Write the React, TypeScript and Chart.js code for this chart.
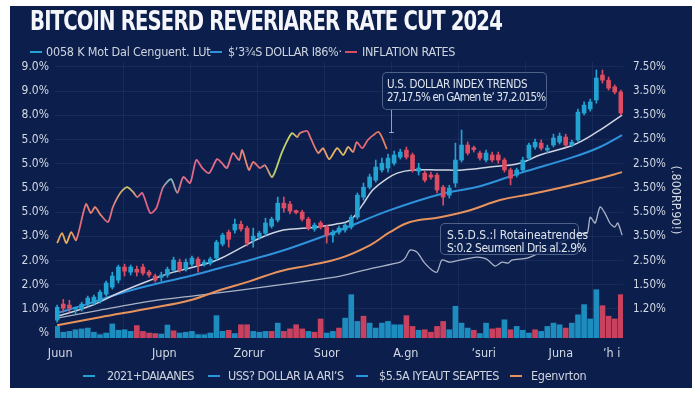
import React, { useEffect, useRef } from 'react';
import { Chart, registerables } from 'chart.js';

Chart.register(...registerables);

// ---------- tick labels ----------
const leftTickLabels = ['%', '1.0%', '2.0%', '2.0%', '3.0%', '5.0%', '5.0%', '5.0%', '5.0%', '8.0%', '9.0%', '9.0%'];
const rightTickLabels = ['', '1.20%', '1.50%', '2.50%', '3.50%', '5.50%', '3.50%', '2.50%', '2.50%', '3.50%', '3.50%', '7.50%'];
const xTickPositions = [0.5, 17.5, 31.3, 44.0, 56.9, 69.6, 82.2, 90.5];
const xTickLabels = ['Juun', 'Jupn', 'Zorur', 'Suor', 'A.gn', '\u02BCsuri', 'Juna', '\u02BCh i'];
const rightAxisTitle = '(.800RP.90!)';

// ---------- candles (93 periods) ----------
const candleOpen = [
  0.54, 1.20, 1.16, 0.99, 0.99, 1.20, 1.24, 1.32, 1.61, 1.90,
  2.19, 2.73, 2.52, 2.64, 2.73, 2.52, 2.36, 2.31, 2.40, 2.60,
  2.93, 2.64, 2.85, 3.06, 2.85, 2.89, 3.10, 3.68, 4.17, 4.26,
  4.50, 4.34, 3.84, 3.97, 4.13, 4.42, 4.67, 5.37, 5.33, 5.00,
  5.00, 4.71, 4.30, 4.55, 4.38, 4.05, 4.17, 4.26, 4.38, 4.79,
  5.62, 6.03, 6.32, 6.74, 6.82, 7.02, 7.27, 7.56, 7.36, 6.69,
  6.61, 6.53, 6.53, 6.03, 5.70, 6.20, 7.15, 7.77, 7.62, 7.44,
  7.15, 7.36, 7.36, 7.15, 6.74, 6.53, 6.74, 7.23, 7.69, 7.85,
  7.56, 7.77, 7.89, 8.10, 7.77, 7.98, 9.09, 9.26, 9.63, 10.66,
  10.45, 10.17, 9.96,
];
const candleClose = [
  1.07, 1.03, 1.03, 1.03, 1.20, 1.45, 1.49, 1.69, 2.07, 2.36,
  2.73, 2.56, 2.73, 2.52, 2.48, 2.40, 2.19, 2.40, 2.64, 3.02,
  2.60, 2.93, 3.10, 2.81, 2.93, 3.06, 3.76, 4.05, 3.88, 4.50,
  4.30, 3.72, 4.01, 4.13, 4.55, 4.71, 5.37, 5.17, 5.04, 4.98,
  4.71, 4.34, 4.46, 4.38, 4.05, 4.17, 4.34, 4.46, 4.79, 5.70,
  6.03, 6.45, 6.86, 7.02, 7.23, 7.36, 7.48, 7.27, 6.74, 6.82,
  6.32, 6.45, 5.91, 5.62, 5.99, 7.15, 7.77, 7.44, 7.58, 7.23,
  7.44, 7.15, 7.15, 6.74, 6.40, 6.74, 7.15, 7.77, 7.89, 7.64,
  7.64, 8.06, 8.14, 7.77, 7.89, 9.13, 9.42, 9.55, 10.54, 10.45,
  10.12, 9.96, 9.09,
];
const candleHigh = [
  1.16, 1.40, 1.36, 1.07, 1.28, 1.53, 1.57, 1.78, 2.15, 2.52,
  2.81, 2.85, 2.81, 2.77, 2.85, 2.60, 2.44, 2.52, 2.73, 3.14,
  3.06, 3.06, 3.18, 3.14, 3.02, 3.14, 3.84, 4.13, 4.26, 4.71,
  4.63, 4.42, 4.34, 4.21, 4.75, 4.79, 5.62, 5.62, 5.45, 5.08,
  5.08, 4.79, 4.55, 4.63, 4.46, 4.26, 4.42, 4.55, 4.88, 5.79,
  6.20, 6.57, 7.15, 7.23, 7.40, 7.52, 7.60, 7.69, 7.44, 7.02,
  6.69, 6.65, 6.61, 6.11, 6.11, 7.85, 8.39, 7.90, 7.73, 7.52,
  7.56, 7.48, 7.48, 7.23, 6.82, 6.82, 7.27, 7.85, 8.02, 7.98,
  7.77, 8.22, 8.27, 8.22, 7.98, 9.26, 9.55, 9.67, 10.87, 10.87,
  10.58, 10.25, 10.04,
];
const candleLow = [
  0.45, 0.87, 0.87, 0.79, 0.91, 1.12, 1.16, 1.24, 1.53, 1.82,
  2.07, 2.36, 2.40, 2.36, 2.40, 2.31, 2.11, 2.15, 2.31, 2.52,
  2.52, 2.56, 2.77, 2.52, 2.77, 2.81, 3.02, 3.60, 3.55, 4.13,
  4.21, 3.60, 3.55, 3.88, 4.01, 4.34, 4.59, 5.00, 4.92, 4.92,
  4.63, 4.26, 4.21, 4.30, 3.72, 3.76, 4.09, 4.17, 4.30, 4.71,
  5.50, 5.95, 6.24, 6.65, 6.65, 6.94, 7.19, 7.19, 6.65, 6.53,
  6.24, 6.36, 5.79, 5.29, 5.58, 6.03, 7.07, 7.36, 7.48, 7.15,
  7.07, 7.07, 7.02, 6.65, 6.12, 6.45, 6.65, 7.15, 7.60, 7.56,
  7.44, 7.69, 7.81, 7.69, 7.69, 7.89, 9.01, 9.17, 9.50, 10.33,
  10.04, 9.88, 9.01,
];

// ---------- volume ----------
const volume = [
  4.2, 2.1, 2.4, 3.0, 3.3, 3.6, 2.1, 1.2, 1.8, 5.1,
  2.8, 3.0, 2.4, 4.5, 2.4, 1.8, 1.6, 1.4, 4.7, 2.6,
  1.8, 2.1, 2.4, 1.2, 1.2, 1.8, 8.1, 2.4, 2.8, 1.6,
  4.8, 4.8, 2.4, 2.1, 2.4, 2.4, 5.4, 2.4, 3.3, 4.8,
  3.3, 2.4, 2.1, 6.9, 1.8, 2.4, 3.6, 7.2, 15.7, 6.0,
  7.9, 5.4, 3.6, 5.4, 6.0, 4.8, 4.8, 8.1, 4.2, 2.8,
  3.0, 2.1, 4.2, 6.0, 3.0, 11.5, 5.4, 3.6, 2.8, 1.6,
  5.4, 3.3, 3.6, 6.6, 3.0, 4.2, 2.8, 1.8, 3.0, 2.4,
  4.2, 5.4, 4.8, 3.6, 5.4, 8.4, 12.1, 6.9, 17.5, 11.7,
  7.9, 6.9, 15.7,
];
const volumeSide = [
  1, 1, 1, 1, 1, 1, 1, 1, 1, 1,
  1, 1, 1, -1, -1, -1, -1, 1, 1, -1,
  1, 1, 1, 1, 1, 1, 1, 1, -1, 1,
  -1, -1, 1, 1, 1, -1, 1, -1, -1, -1,
  -1, 1, -1, -1, 1, 1, -1, 1, 1, 1,
  -1, 1, 1, 1, 1, 1, 1, -1, -1, 1,
  -1, -1, -1, -1, 1, 1, 1, 1, -1, 1,
  1, -1, -1, 1, -1, 1, 1, 1, -1, 1,
  1, 1, 1, -1, 1, 1, 1, 1, 1, -1,
  -1, -1, -1,
];

// ---------- lines ----------
const inflationX = [
  0, 0.8, 1.5, 2.3, 3.1, 4.7, 5.5, 6.2, 7.0, 8.3,
  9.1, 10.3, 11.4, 12.4, 13.1, 13.9, 15.2, 16.2, 17.3, 18.6,
  19.6, 20.6, 21.7, 22.7, 23.7, 24.8, 26.1, 26.9, 27.7, 28.7,
  29.7, 30.2, 31.3, 32.0, 33.1, 33.9, 35.1, 36.7, 38.3, 39.2,
  39.6, 40.8, 41.3, 42.6, 43.4, 44.4, 45.7, 46.7, 47.5, 48.3,
  48.9, 49.8, 50.7, 51.6, 52.4, 53.0, 53.8,
];
const inflationY = [
  3.72, 4.13, 3.72, 4.17, 3.84, 5.33, 4.96, 5.21, 4.92, 4.59,
  5.21, 5.79, 6.03, 5.83, 5.62, 5.79, 4.96, 5.17, 6.03, 6.36,
  5.79, 6.45, 6.20, 7.15, 6.82, 6.61, 7.19, 7.02, 6.82, 7.44,
  7.15, 7.56, 6.74, 7.07, 6.82, 6.94, 6.45, 7.48, 8.26, 8.10,
  8.26, 8.35, 8.10, 7.44, 7.64, 7.19, 7.64, 7.36, 7.69, 7.48,
  7.89, 7.64, 7.98, 8.18, 8.31, 8.10, 7.60,
];
const maFastX = [0, 5.4, 10.3, 15.2, 18.4, 21.7, 26.1, 29.9, 33.1, 36.9, 40.8, 45.4, 47.8, 49.8, 51.5, 53.5, 55.5, 58.1, 62.5, 66.2, 70.6, 75.5, 78.8, 84.2, 88.1, 92.2];
const maFastY = [0.70, 1.12, 1.69, 2.19, 2.48, 2.69, 3.02, 3.51, 3.93, 4.26, 4.34, 4.50, 4.67, 5.29, 5.91, 6.32, 6.61, 6.74, 6.74, 6.74, 6.86, 7.02, 7.36, 7.77, 8.31, 9.01];
const dollarX = [0, 5.4, 9.8, 15.2, 21.7, 26.6, 31.5, 38.0, 46.2, 54.3, 62.5, 69.0, 75.5, 84.2, 88.6, 92.2];
const dollarY = [0.83, 1.24, 1.61, 1.98, 2.36, 2.69, 3.02, 3.51, 4.26, 5.08, 5.74, 6.07, 6.61, 7.27, 7.69, 8.18];
const maSlowX = [0, 7.0, 15.2, 21.7, 26.6, 31.5, 36.4, 41.3, 46.2, 51.1, 54.3, 57.6, 62.5, 67.4, 72.3, 77.2, 82.5, 88.6, 92.2];
const maSlowY = [0.33, 0.66, 1.03, 1.36, 1.78, 2.15, 2.56, 2.81, 3.10, 3.64, 4.17, 4.59, 4.79, 5.08, 5.50, 5.74, 6.03, 6.40, 6.65];
const ratesX = [
  0, 7.0, 15.2, 23.3, 29.9, 39.6, 46.2, 51.5, 56.0, 56.8,
  57.6, 58.7, 60.0, 61.2, 62.0, 62.8, 64.1, 65.7, 67.4, 68.5,
  70.1, 71.5, 72.6, 73.6, 74.2, 76.7, 79.6, 82.9, 85.3, 86.5,
  87.0, 87.8, 88.6, 89.4, 90.2, 91.0, 91.5, 92.2,
];
const ratesY = [
  0.62, 0.95, 1.32, 1.57, 1.78, 2.11, 2.36, 2.69, 2.93, 3.10,
  3.43, 3.35, 2.89, 2.60, 2.52, 3.02, 2.93, 3.02, 3.10, 3.14,
  3.06, 2.77, 2.93, 2.89, 3.02, 3.10, 3.43, 3.84, 4.13, 4.13,
  4.79, 4.55, 5.21, 4.96, 4.55, 4.38, 4.55, 4.05,
];

// ---------- text ----------
const titleText = 'BITCOIN RESERD REVERIARER RATE CUT 2024';
const topLegend = ['0058 K Mot Dal Cenguent. LUt', '$\u02BC3\u00BES DOLLAR I86%\u00B7', 'INFLATION RATES'];
const bottomLegend = ['2021+DAIAANES', 'USS? DOLLAR IA ARI\u02BCS', '$5.5A IYEAUT SEAPTES', 'Egenvrton'];
const note1 = ['U.S. DOLLAR INDEX TRENDS', '27,17.5% en GAmen te\u02BC 37,2.015%'];
const note2 = ['S.5.D.S.:l Rotaineatrendes', 'S:0.2 Seurnsenl Dris al.2.9%'];

// ---------- styles ----------
const NAVY = '#0c1e4b';
const FONT = "'Liberation Sans Narrow', 'DejaVu Sans Condensed', 'Liberation Sans', sans-serif";
const TICK = '#d3d9e4';
const GRID = 'rgba(130,160,220,0.10)';
const TEAL = '#22a3d2';
const RED = '#dc4c62';
const VOL_TEAL = '#1d8cbf';
const VOL_RED = '#c8415f';
const BLUE = '#2f92dc';
const WHITE_LINE = '#cfd5e2';
const ORANGE = '#e8925c';
const GRAY_LINE = '#aab3c6';
const X_MIN = -0.35;
const X_MAX = 92.35;

const gradientStops: [number, string][] = [
  [0.004, '#e8a15a'], [0.023, '#e6b25e'], [0.044, '#e46a7e'], [0.07, '#e88a6a'],
  [0.097, '#e46a84'], [0.127, '#c8cf6a'], [0.15, '#e06688'], [0.185, '#e0607e'],
  [0.202, '#6cc8c0'], [0.22, '#e07088'], [0.255, '#e0668a'], [0.308, '#e6708a'],
  [0.335, '#e58a70'], [0.361, '#e0667f'], [0.387, '#b8d06a'], [0.417, '#c9d468'],
  [0.44, '#e0607f'], [0.484, '#e8b064'], [0.511, '#e0c060'], [0.537, '#e05e7c'],
  [0.585, '#e8875c'], [1, '#e8875c'],
];

const pts = (xs: number[], ys: number[]) => xs.map((x, i) => ({ x, y: ys[i] }));

function Legend({ items, colors, markers, texts, top, size, spacing }: { items: string[]; colors: string[]; markers: number[]; texts: number[]; top: number; size: number; spacing: number[] }) {
  return (
    <>
      {items.map((t, i) => (
        <React.Fragment key={i}>
          <div style={{ position: 'absolute', left: markers[i], top: top + 7, width: 12, height: 2, background: colors[i] }} />
          <div style={{ position: 'absolute', left: texts[i], top, lineHeight: '16px', fontSize: size, letterSpacing: spacing[i], color: '#cdd4e0', whiteSpace: 'nowrap' }}>{t}</div>
        </React.Fragment>
      ))}
    </>
  );
}

export default function App() {
  const ref = useRef<HTMLCanvasElement>(null);

  useEffect(() => {
    const canvas = ref.current;
    if (!canvas) return;
    const candleColors = candleOpen.map((o, i) => (candleClose[i] >= o ? TEAL : RED));
    const volColors = volumeSide.map((s) => (s > 0 ? VOL_TEAL : VOL_RED));
    const tickFont = { family: FONT, size: 12 };

    const chart = new Chart(canvas, {
      type: 'bar',
      data: {
        datasets: [
          {
            type: 'line',
            label: 'Inflation',
            data: pts(inflationX, inflationY),
            xAxisID: 'x',
            yAxisID: 'y',
            borderColor: (ctx: any) => {
              const area = ctx.chart.chartArea;
              if (!area) return '#e06b8c';
              const g = ctx.chart.ctx.createLinearGradient(area.left, 0, area.right, 0);
              gradientStops.forEach(([p, c]) => g.addColorStop(p, c));
              return g;
            },
            borderWidth: 1.8,
            pointRadius: 0,
            tension: 0.25,
            order: 0,
          } as any,
          {
            type: 'bar',
            label: 'Body',
            data: candleOpen.map((o, i) => ({ x: i, y: [o, candleClose[i]] })),
            xAxisID: 'x',
            yAxisID: 'y',
            backgroundColor: candleColors,
            borderWidth: 0,
            barThickness: 4,
            minBarLength: 2,
            grouped: false,
            order: 1,
          } as any,
          {
            type: 'bar',
            label: 'Wick',
            data: candleLow.map((l, i) => ({ x: i, y: [l, candleHigh[i]] })),
            xAxisID: 'x',
            yAxisID: 'y',
            backgroundColor: candleColors,
            borderWidth: 0,
            barThickness: 1,
            grouped: false,
            order: 2,
          } as any,
          {
            type: 'line',
            label: 'MA fast',
            data: pts(maFastX, maFastY),
            xAxisID: 'x',
            yAxisID: 'y',
            borderColor: WHITE_LINE,
            borderWidth: 1.5,
            pointRadius: 0,
            tension: 0.4,
            order: 3,
          } as any,
          {
            type: 'line',
            label: 'Dollar',
            data: pts(dollarX, dollarY),
            xAxisID: 'x',
            yAxisID: 'y',
            borderColor: BLUE,
            borderWidth: 2,
            pointRadius: 0,
            tension: 0.4,
            order: 3,
          } as any,
          {
            type: 'line',
            label: 'MA slow',
            data: pts(maSlowX, maSlowY),
            xAxisID: 'x',
            yAxisID: 'y',
            borderColor: ORANGE,
            borderWidth: 2,
            pointRadius: 0,
            tension: 0.4,
            order: 3,
          } as any,
          {
            type: 'line',
            label: 'Rates',
            data: pts(ratesX, ratesY),
            xAxisID: 'x',
            yAxisID: 'y',
            borderColor: GRAY_LINE,
            borderWidth: 1.3,
            pointRadius: 0,
            tension: 0.25,
            order: 3,
          } as any,
          {
            type: 'bar',
            label: 'Volume',
            data: volume.map((v, i) => ({ x: i, y: v })),
            xAxisID: 'x',
            yAxisID: 'yv',
            backgroundColor: volColors,
            borderWidth: 0,
            barThickness: 5,
            grouped: false,
            order: 10,
          } as any,
        ],
      },
      options: {
        responsive: false,
        animation: false,
        events: [],
        layout: { padding: { top: 56, left: 0, right: 0, bottom: 0 }, autoPadding: false } as any,
        plugins: { legend: { display: false }, tooltip: { enabled: false }, title: { display: false } },
        scales: {
          x: {
            type: 'linear',
            min: X_MIN,
            max: X_MAX,
            bounds: 'data',
            offset: false,
            grid: { display: false, offset: false },
            border: { display: false },
            ticks: {
              color: TICK,
              font: { family: FONT, size: 12.5 },
              padding: 0,
              autoSkip: false,
              maxRotation: 0,
              callback: (_v: any, i: number) => xTickLabels[i] ?? '',
            },
            afterBuildTicks: (axis: any) => {
              axis.ticks = xTickPositions.map((v) => ({ value: v }));
            },
            afterFit: (axis: any) => {
              axis.height = 50;
            },
          },
          xg: {
            type: 'linear',
            position: 'top',
            min: X_MIN,
            max: X_MAX,
            bounds: 'data',
            offset: false,
            grid: { color: GRID, drawTicks: false, offset: false },
            border: { display: false },
            ticks: { display: false },
            afterBuildTicks: (axis: any) => {
              const t = [];
              for (let v = 10.9; v < X_MAX; v += 10.93) t.push({ value: v });
              axis.ticks = t;
            },
            afterFit: (axis: any) => {
              axis.height = 0;
            },
          },
          y: {
            type: 'linear',
            position: 'left',
            min: -0.2,
            max: 11.2,
            bounds: 'data',
            grid: { color: GRID, drawTicks: false },
            border: { display: false },
            ticks: {
              color: TICK,
              font: tickFont,
              padding: 6,
              callback: (v: any) => leftTickLabels[Math.round(v)] ?? '',
            },
            afterBuildTicks: (axis: any) => {
              axis.ticks = leftTickLabels.map((_, i) => ({ value: i }));
            },
            afterFit: (axis: any) => {
              axis.width = 45;
            },
          },
          y2: {
            type: 'linear',
            position: 'right',
            min: -0.2,
            max: 11.2,
            bounds: 'data',
            grid: { display: false, drawTicks: false },
            border: { display: false },
            ticks: {
              color: TICK,
              font: { family: FONT, size: 11.5 },
              padding: 10,
              callback: (v: any) => rightTickLabels[Math.round(v)] ?? '',
            },
            title: {
              display: true,
              text: rightAxisTitle,
              color: TICK,
              font: { family: FONT, size: 12.5 },
              padding: { top: 9, bottom: 0 },
            },
            afterBuildTicks: (axis: any) => {
              axis.ticks = rightTickLabels.map((_, i) => ({ value: i }));
            },
            afterFit: (axis: any) => {
              axis.width = 69;
            },
          },
          yv: { type: 'linear', display: false, min: 0, max: 100 },
        } as any,
      },
    });
    return () => chart.destroy();
  }, []);

  const boxStyle: React.CSSProperties = {
    position: 'absolute',
    border: '1px solid rgba(190,205,230,0.38)',
    borderRadius: 5,
    background: 'rgba(13,33,80,0.88)',
    boxSizing: 'border-box',
  };
  const noteText = (top: number, left: number, size: number, spacing: number): React.CSSProperties => ({
    position: 'absolute',
    left,
    top,
    fontSize: size,
    letterSpacing: spacing,
    lineHeight: '14px',
    color: '#dfe5ee',
    whiteSpace: 'nowrap',
  });

  return (
    <div
      style={{
        position: 'fixed',
        left: 10,
        top: 6,
        width: 682,
        height: 382,
        background: NAVY,
        overflow: 'hidden',
        fontFamily: FONT,
      }}
    >
      <canvas ref={ref} width={682} height={382} style={{ position: 'absolute', left: 0, top: 0, width: 682, height: 382 }} />
      <div
        style={{
          position: 'absolute',
          left: 20,
          top: 2,
          fontSize: 26,
          lineHeight: '27px',
          fontWeight: 700,
          letterSpacing: -1,
          color: '#f4f6fb',
          whiteSpace: 'nowrap',
          transform: 'scaleX(0.84)',
          transformOrigin: '0 0',
        }}
      >
        {titleText}
      </div>
      <Legend items={topLegend} colors={[TEAL, BLUE, RED]} markers={[20, 200, 335]} texts={[36, 218, 352]} top={38} size={12.5} spacing={[-0.2, -0.4, -0.3]} />
      <Legend items={bottomLegend} colors={[TEAL, BLUE, BLUE, ORANGE]} markers={[73, 198, 346, 500]} texts={[97, 218, 369, 521]} top={362} size={12.5} spacing={[-0.7, -0.5, -0.5, -0.3]} />

      <div style={{ ...boxStyle, left: 372, top: 66, width: 165, height: 38 }}>
        <div style={noteText(4, 4, 11.5, -0.3)}>{note1[0]}</div>
        <div style={noteText(17, 4, 11.5, -0.8)}>{note1[1]}</div>
      </div>
      <div style={{ position: 'absolute', left: 381, top: 104, width: 1, height: 23, background: 'rgba(200,210,230,0.7)' }} />
      <div style={{ position: 'absolute', left: 379, top: 126, width: 5, height: 1, background: 'rgba(200,210,230,0.7)' }} />

      <div style={{ ...boxStyle, left: 430, top: 217, width: 139, height: 32 }}>
        <div style={noteText(4, 6, 12, 0)}>{note2[0]}</div>
        <div style={noteText(17, 6, 12, -0.5)}>{note2[1]}</div>
      </div>
    </div>
  );
}
